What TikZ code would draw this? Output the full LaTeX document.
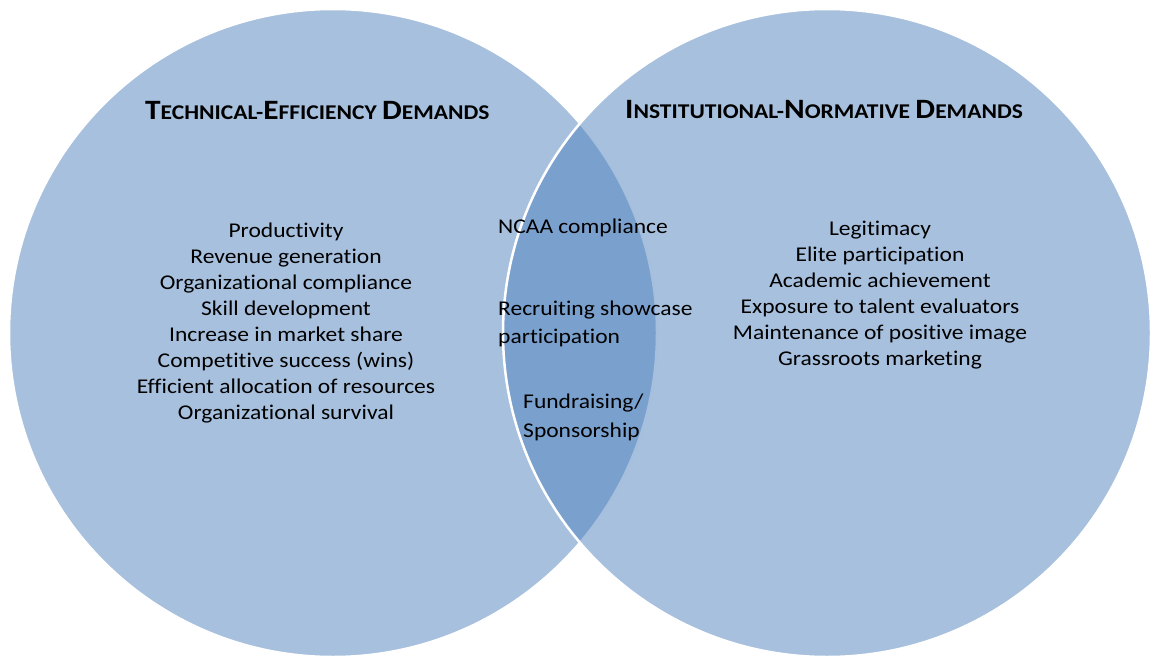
\documentclass[tikz,border=0pt]{standalone}
\usepackage{fontspec}
\setmainfont[FakeStretch=1.12, Ligatures=CommonOff]{Carlito}
\definecolor{accent}{HTML}{4F81BD}
\newcommand\BigCap[1]{{\fontsize{28}{30}\selectfont #1}}
\begin{document}
\begin{tikzpicture}[x=1pt,y=-1pt,
  circ/.style={circle, inner sep=0pt, minimum size=648pt, fill=accent, fill opacity=0.5, draw=white, line width=2.5pt},
  title/.style={anchor=base west, inner sep=0pt, font=\bfseries\fontsize{21}{26}\selectfont},
  body/.style={anchor=base, inner sep=0pt, align=center, font=\fontsize{21}{26}\selectfont},
  mid/.style={anchor=base west, inner sep=0pt, align=left, font=\fontsize{21}{28.5}\selectfont}]
\useasboundingbox (0,0) rectangle (1151,661);
\node[circ] (L) at (333,333) {};
\node[circ] (R) at (827,333) {};
\node[title] (Lt) at (145,119) {\BigCap{T}ECHNICAL-\BigCap{E}FFICIENCY \BigCap{D}EMANDS};
\node[title] (Rt) at (625,118) {\BigCap{I}NSTITUTIONAL-\BigCap{N}ORMATIVE \BigCap{D}EMANDS};
\node[body] (Lb) at (286,419) {Productivity\\Revenue generation\\Organizational compliance\\Skill development\\Increase in market share\\Competitive success (wins)\\Efficient allocation of resources\\Organizational survival};
\node[body] (Rb) at (880,365) {Legitimacy\\Elite participation\\Academic achievement\\Exposure to talent evaluators\\Maintenance of positive image\\Grassroots marketing};
\node[mid] (m1) at (498,233) {NCAA compliance};
\node[mid] (m2) at (498,343.5) {Recruiting showcase\\participation};
\node[mid] (m3) at (523,437) {Fundraising/\\Sponsorship};
\end{tikzpicture}
\end{document}
